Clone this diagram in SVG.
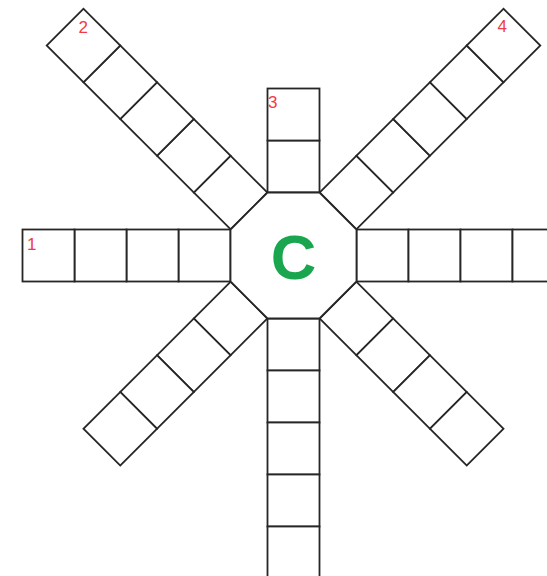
<svg xmlns="http://www.w3.org/2000/svg" width="547" height="576" viewBox="0 0 547 576">
<style>
.c{fill:#fff;stroke:#262626;stroke-width:1.8}
.n{font-family:"Liberation Sans",Arial,sans-serif;font-size:17px;fill:#f03a46}
.hub{font-family:"Liberation Sans",Arial,sans-serif;font-size:63px;font-weight:bold;fill:#1aa64e}
</style>
<defs>
<rect id="cell" class="c" width="52" height="52"/>
</defs>
<rect width="547" height="576" fill="#fff"/>
<g id="connectors"/>
<g id="arm-top">
<g transform="rotate(0 293.5 255.5)">
<use href="#cell" x="267.5" y="140.5"/><use href="#cell" x="267.5" y="88.5"/>
</g>
<text class="n" x="268" y="107.5">3</text>
</g>
<g id="arm-upper-right">
<g transform="rotate(45 293.5 255.5)">
<use href="#cell" x="267.5" y="140.5"/><use href="#cell" x="267.5" y="88.5"/><use href="#cell" x="267.5" y="36.5"/><use href="#cell" x="267.5" y="-15.5"/><use href="#cell" x="267.5" y="-67.5"/>
</g>
<text class="n" x="497.5" y="32">4</text>
</g>
<g id="arm-right">
<g transform="rotate(90 293.5 255.5)">
<use href="#cell" x="267.5" y="140.5"/><use href="#cell" x="267.5" y="88.5"/><use href="#cell" x="267.5" y="36.5"/><use href="#cell" x="267.5" y="-15.5"/>
</g>
</g>
<g id="arm-lower-right">
<g transform="rotate(135 293.5 255.5)">
<use href="#cell" x="267.5" y="140.5"/><use href="#cell" x="267.5" y="88.5"/><use href="#cell" x="267.5" y="36.5"/><use href="#cell" x="267.5" y="-15.5"/>
</g>
</g>
<g id="arm-bottom">
<g transform="rotate(180 293.5 255.5)">
<use href="#cell" x="267.5" y="140.5"/><use href="#cell" x="267.5" y="88.5"/><use href="#cell" x="267.5" y="36.5"/><use href="#cell" x="267.5" y="-15.5"/><use href="#cell" x="267.5" y="-67.5"/>
</g>
</g>
<g id="arm-lower-left">
<g transform="rotate(225 293.5 255.5)">
<use href="#cell" x="267.5" y="140.5"/><use href="#cell" x="267.5" y="88.5"/><use href="#cell" x="267.5" y="36.5"/><use href="#cell" x="267.5" y="-15.5"/>
</g>
</g>
<g id="arm-left">
<g transform="rotate(270 293.5 255.5)">
<use href="#cell" x="267.5" y="140.5"/><use href="#cell" x="267.5" y="88.5"/><use href="#cell" x="267.5" y="36.5"/><use href="#cell" x="267.5" y="-15.5"/>
</g>
<text class="n" x="27" y="249.5">1</text>
</g>
<g id="arm-upper-left">
<g transform="rotate(315 293.5 255.5)">
<use href="#cell" x="267.5" y="140.5"/><use href="#cell" x="267.5" y="88.5"/><use href="#cell" x="267.5" y="36.5"/><use href="#cell" x="267.5" y="-15.5"/><use href="#cell" x="267.5" y="-67.5"/>
</g>
<text class="n" x="78.5" y="32.5">2</text>
</g>
<g id="hub">
<polygon class="c" points="267.5,192.5 319.5,192.5 356.5,229.5 356.5,281.5 319.5,318.5 267.5,318.5 230.5,281.5 230.5,229.5"/>
<text class="hub" x="293.5" y="279" text-anchor="middle">C</text>
</g>
</svg>
